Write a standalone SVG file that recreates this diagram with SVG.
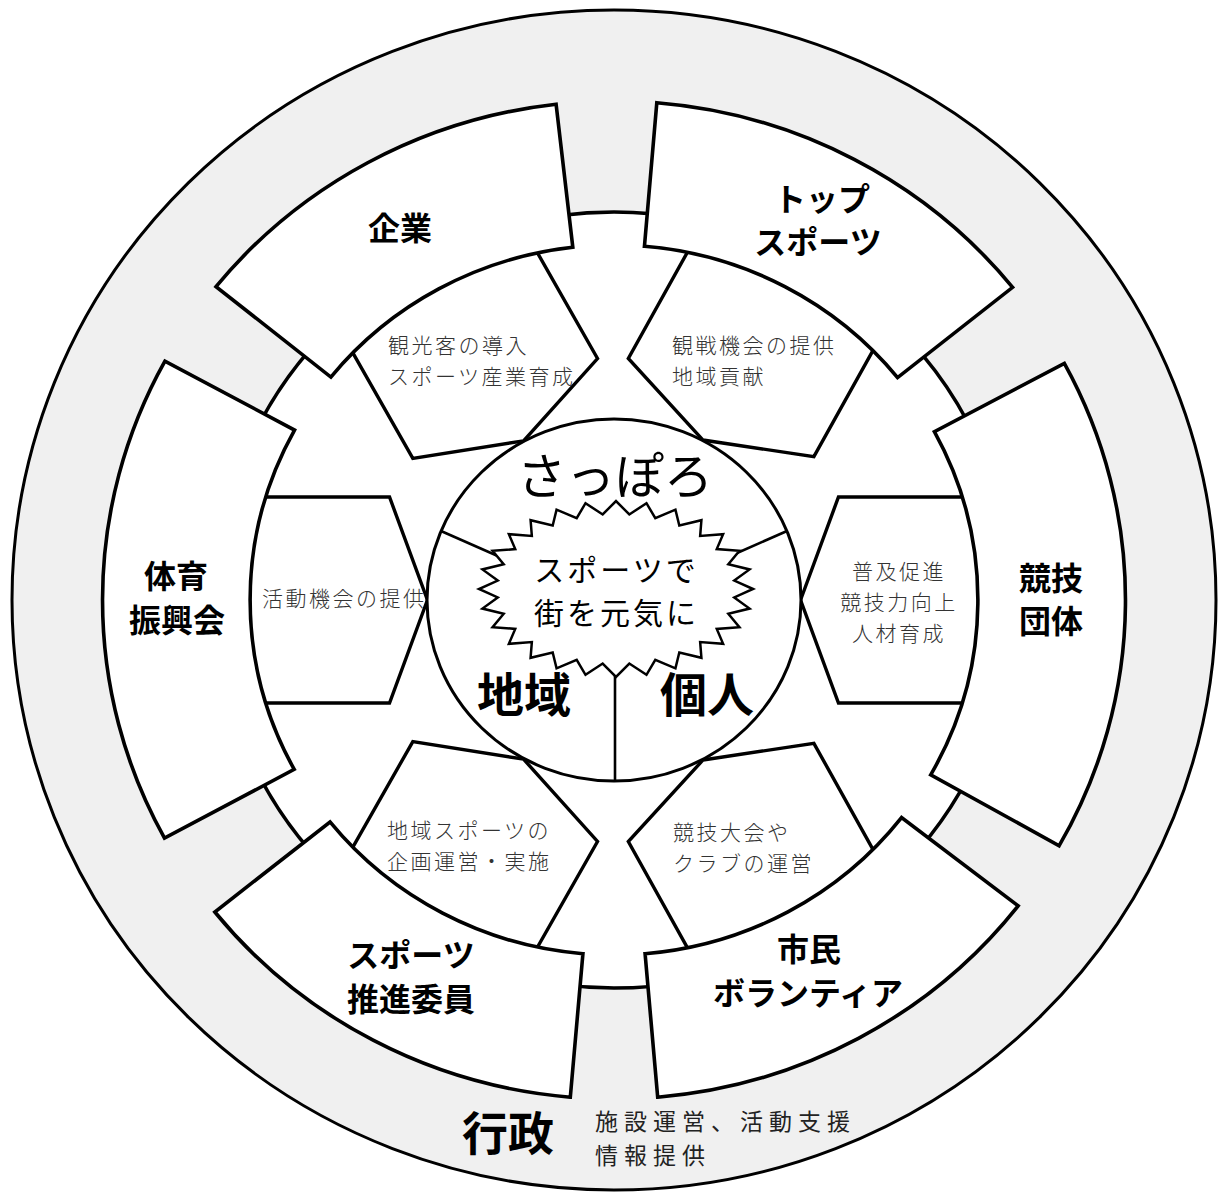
<svg xmlns="http://www.w3.org/2000/svg" width="1219" height="1193" viewBox="0 0 1219 1193">
<style>
.sh{stroke:#000;fill:#fff;vector-effect:non-scaling-stroke;stroke-linejoin:miter}
.box{stroke-width:3.6}
.pent{stroke-width:3.4}
.lbl{font-family:"Noto Sans CJK JP","Noto Sans CJK SC",sans-serif;font-weight:700;font-size:32px;fill:#000;text-anchor:middle}
.sub{font-family:"Noto Sans CJK JP","Noto Sans CJK SC",sans-serif;font-weight:300;font-size:21px;letter-spacing:2.5px;fill:#333}
.mid{text-anchor:middle}
.big{font-family:"Noto Sans CJK JP","Noto Sans CJK SC",sans-serif;fill:#000;text-anchor:middle}
.gov{font-family:"Noto Sans CJK JP","Noto Sans CJK SC",sans-serif;font-size:23px;letter-spacing:6px;fill:#222}
.div{stroke:#000;stroke-width:2.6;fill:none}
</style>
<rect width="1219" height="1193" fill="#fff"/>

<g id="gyosei">
<ellipse cx="614" cy="600" rx="602" ry="590" fill="#f0f0f0" stroke="#000" stroke-width="3"/>
<text class="big" x="508" y="1150" font-size="46" font-weight="700">行政</text>
<text class="gov" x="595" y="1130">施設運営、活動支援</text>
<text class="gov" x="595" y="1164">情報提供</text>
</g>

<ellipse id="ring" cx="614" cy="600" rx="398" ry="388" fill="#fff" stroke="#000" stroke-width="3.5"/>

<g id="role-kyogi">
<polygon class="sh pent" transform="translate(614 600) scale(1.025 1) rotate(0)" points="182,0 219,-103 390,-103 390,103 219,103"/>
<text class="sub mid" x="899" y="579">普及促進</text>
<text class="sub mid" x="899" y="610">競技力向上</text>
<text class="sub mid" x="899" y="641">人材育成</text>
</g>
<g id="role-top">
<polygon class="sh pent" transform="translate(614 600) scale(1.025 1) rotate(-61.5)" points="182,0 219,-103 390,-103 390,103 219,103"/>
<text class="sub" x="672" y="353">観戦機会の提供</text>
<text class="sub" x="672" y="384">地域貢献</text>
</g>
<g id="role-kigyo">
<polygon class="sh pent" transform="translate(614 600) scale(1.025 1) rotate(-119)" points="182,0 219,-103 390,-103 390,103 219,103"/>
<text class="sub" x="388" y="353">観光客の導入</text>
<text class="sub" x="388" y="384">スポーツ産業育成</text>
</g>
<g id="role-taiiku">
<polygon class="sh pent" transform="translate(614 600) scale(1.025 1) rotate(-180)" points="182,0 219,-103 390,-103 390,103 219,103"/>
<text class="sub" x="262" y="606">活動機会の提供</text>
</g>
<g id="role-suishin">
<polygon class="sh pent" transform="translate(614 600) scale(1.025 1) rotate(-241)" points="182,0 219,-103 390,-103 390,103 219,103"/>
<text class="sub" x="387" y="838">地域スポーツの</text>
<text class="sub" x="387" y="869">企画運営・実施</text>
</g>
<g id="role-shimin">
<polygon class="sh pent" transform="translate(614 600) scale(1.025 1) rotate(-298.5)" points="182,0 219,-103 390,-103 390,103 219,103"/>
<text class="sub" x="673" y="840">競技大会や</text>
<text class="sub" x="673" y="871">クラブの運営</text>
</g>

<g id="kyogi-dantai">
<path class="sh box" transform="translate(614 600) scale(1.025 1)" d="M434.31,245.72 A499,499 0 0 0 439.36,-236.57 L312.57,-168.30 A355,355 0 0 1 308.98,174.81 Z"/>
<text class="lbl" x="1051" y="590">競技</text>
<text class="lbl" x="1051" y="633">団体</text>
</g>
<g id="top-sports">
<path class="sh box" transform="translate(614 600) scale(1.025 1)" d="M388.89,-312.67 A499,499 0 0 0 41.76,-497.25 L29.71,-353.75 A355,355 0 0 1 276.67,-222.44 Z"/>
<text class="lbl" x="822" y="211">トップ</text>
<text class="lbl" x="818" y="254">スポーツ</text>
</g>
<g id="kigyo">
<path class="sh box" transform="translate(614 600) scale(1.025 1)" d="M-56.49,-495.79 A499,499 0 0 0 -388.28,-313.35 L-276.23,-222.93 A355,355 0 0 1 -40.19,-352.72 Z"/>
<text class="lbl" x="400" y="240">企業</text>
</g>
<g id="taiiku-shinkokai">
<path class="sh box" transform="translate(614 600) scale(1.025 1)" d="M-438.11,-238.87 A499,499 0 0 0 -438.53,238.10 L-311.98,169.39 A355,355 0 0 1 -311.68,-169.93 Z"/>
<text class="lbl" x="176" y="588">体育</text>
<text class="lbl" x="177" y="632">振興会</text>
</g>
<g id="sports-suishin-iin">
<path class="sh box" transform="translate(614 600) scale(1.025 1)" d="M-389.43,312.00 A499,499 0 0 0 -42.62,497.18 L-30.32,353.70 A355,355 0 0 1 -277.05,221.96 Z"/>
<text class="lbl" x="411" y="967">スポーツ</text>
<text class="lbl" x="411" y="1011">推進委員</text>
</g>
<g id="shimin-volunteer">
<path class="sh box" transform="translate(614 600) scale(1.025 1)" d="M42.62,497.18 A499,499 0 0 0 394.29,305.84 L280.51,217.58 A355,355 0 0 1 30.32,353.70 Z"/>
<text class="lbl" x="809" y="961">市民</text>
<text class="lbl" x="808" y="1005">ボランティア</text>
</g>

<g id="center">
<ellipse cx="614" cy="600" rx="187" ry="181" fill="#fff" stroke="#000" stroke-width="3"/>
<text class="big" x="615" y="494" font-size="49">さっぽろ</text>
<text class="big" x="524" y="712" font-size="47" font-weight="700">地域</text>
<text class="big" x="707" y="712" font-size="47" font-weight="700">個人</text>
</g>

<g id="connectors">
<line class="div" x1="441" y1="531" x2="500" y2="557"/>
<line class="div" x1="787" y1="531" x2="728" y2="557"/>
<line class="div" x1="615" y1="668" x2="615" y2="782"/>
</g>

<g id="slogan">
<polygon fill="#fff" stroke="#000" stroke-width="2.5" stroke-linejoin="miter" points="753,589 734.25,580.6 749.57,569.42 728.32,564.23 739.43,550.82 716.76,549.1 723.11,534.13 700.15,535.97 701.42,520.2 679.31,525.5 675.44,509.71 655.3,518.21 646.49,503.21 629.32,514.47 616,501 602.68,514.47 585.51,503.21 576.7,518.21 556.56,509.71 552.69,525.5 530.58,520.2 531.85,535.97 508.89,534.13 515.24,549.1 492.57,550.82 503.68,564.23 482.43,569.42 497.75,580.6 479,589 497.75,597.4 482.43,608.58 503.68,613.77 492.57,627.18 515.24,628.9 508.89,643.87 531.85,642.03 530.58,657.8 552.69,652.5 556.56,668.29 576.7,659.79 585.51,674.79 602.68,663.53 616,677 629.32,663.53 646.49,674.79 655.3,659.79 675.44,668.29 679.31,652.5 701.42,657.8 700.15,642.03 723.11,643.87 716.76,628.9 739.43,627.18 728.32,613.77 749.57,608.58 734.25,597.4"/>
<text class="big" x="616.5" y="581" font-size="30" letter-spacing="3">スポーツで</text>
<text class="big" x="616.5" y="624" font-size="30" letter-spacing="3">街を元気に</text>
</g>
</svg>
